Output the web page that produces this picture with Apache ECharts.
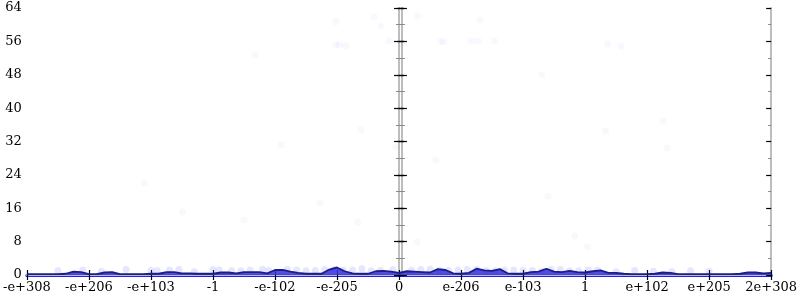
<!DOCTYPE html>
<html><head><meta charset="utf-8">
<script src="https://cdn.jsdelivr.net/npm/echarts@6/dist/echarts.min.js"></script>
<style>html,body{margin:0;padding:0;background:#fff}#c{width:800px;height:300px}</style>
</head><body><div id="c"></div>
<script>
// x axis tick labels (positions -6..6)
const xTickLabels = ['-e+308','-e+206','-e+103','-1','-e-102','-e-205','0','e-206','e-103','1','e+102','e+205','2e+308'];
const yTicks = [0, 8, 16, 24, 32, 40, 48, 56, 64];
// histogram line sampled at x = -6 + i*0.125
const histX = [];
for (let i = 0; i <= 96; i++) histX.push(-6 + i * 0.125);
const histY = [0.2,0.2,0.2,0.2,0.2,0.3,0.8,0.7,0.2,0.2,0.6,0.7,0.2,0.2,0.2,0.2,0.3,0.3,0.7,0.7,
  0.4,0.4,0.3,0.3,0.3,0.6,0.6,0.4,0.7,0.7,0.7,0.4,1.2,1.2,0.8,0.5,0.3,0.3,0.3,1.3,
  1.8,0.9,0.4,0.3,0.3,0.9,1.0,0.8,0.5,0.9,0.8,0.7,0.6,1.4,1.2,0.4,0.3,0.5,1.5,1.1,
  1.0,1.4,0.4,0.3,0.3,0.7,0.8,1.5,0.8,0.7,1.0,0.7,0.6,0.9,1.1,0.5,0.5,0.3,0.2,0.2,
  0.2,0.3,0.6,0.5,0.2,0.2,0.2,0.2,0.2,0.2,0.2,0.2,0.3,0.6,0.6,0.4,0.5];
// faint scatter points
const scatterX = [-2.32,-1.90,-2.50,-1.28,-0.67,-4.11,-3.49,0.59,0.29,2.40,3.04,2.83,-1.02,-0.40,-0.29,0.30,1.30,
  -1.02,-0.96,-0.86,-0.16,0.05,0.67,0.72,1.17,1.28,1.54,-0.62,-0.05,3.36,3.58,4.26,3.33,4.32,2.30,
  -5.5,-5.1,-4.8,-4.4,-4.0,-3.7,-3.3,-3.0,-2.7,-2.4,-2.1,-1.8,-1.5,-1.2,-0.9,-0.6,-0.3,-0.1,
  0.2,0.5,0.8,1.1,1.4,1.7,2.0,2.3,2.6,2.9,3.2,3.5,3.8,4.1,4.4,4.7,5.0,
  -3.9,-3.55,-2.9,-2.55,-2.2,-1.65,-1.35,-1.05,-0.75,-0.45,0.35,0.65,0.95,1.25,1.55,1.85,2.15,2.45,2.75,3.05];
const scatterY = [52.8,31.2,13.2,17.3,12.7,22.0,15.1,27.6,7.9,18.9,6.7,9.4,60.7,61.9,59.7,62.1,61.2,
  55.2,55.2,54.9,56.1,55.6,55.9,55.9,56.1,56.1,56.1,34.8,30.7,55.4,54.9,36.9,34.5,30.5,48.0,
  1.0,1.2,0.9,1.3,1.1,1.2,0.8,1.3,1.0,1.2,1.1,1.4,1.0,1.3,1.2,1.5,1.1,1.3,
  1.2,1.4,1.1,1.3,1.0,1.2,1.1,0.9,1.3,1.0,1.2,0.8,1.1,0.9,0.8,1.0,0.9,
  1.1,1.3,1.2,1.0,1.4,1.2,1.1,1.3,1.2,1.0,1.3,1.1,1.2,1.4,1.0,1.2,1.1,1.3,1.0,1.2];

const chart = echarts.init(document.getElementById('c'), null, {renderer: 'canvas'});
const font = 'DejaVu Serif';
const grayLine = {show: true, lineStyle: {color: '#bdbdbd', width: 2}};
function yAx(pos, offset, inside, labels) {
  return {
    type: 'value', min: 0, max: 64, interval: 8, position: pos, offset: offset,
    axisLine: grayLine, splitLine: {show: false},
    axisTick: {show: true, inside: inside, length: 5, lineStyle: {color: '#000', width: 1.2}},
    minorTick: {show: true, splitNumber: 2, length: 3, lineStyle: {color: '#888', width: 1}},
    axisLabel: {show: labels, color: '#000', fontFamily: font, fontSize: 13, margin: 5}
  };
}
const option = {
  animation: false,
  grid: {left: 24, right: 26, top: 8, bottom: 25},
  xAxis: [
    {type: 'value', min: -6, max: 6, interval: 1, position: 'bottom',
      axisLine: {show: true, onZero: false, lineStyle: {color: '#2020f0', width: 3}},
      axisTick: {show: true, length: 5, lineStyle: {color: '#000', width: 1.2}},
      splitLine: {show: false},
      axisLabel: {color: '#000', fontFamily: font, fontSize: 13, margin: 6,
        formatter: v => xTickLabels[Math.round(v) + 6]}},
    {type: 'value', min: -6, max: 6, interval: 1, position: 'bottom',
      axisLine: {show: false}, splitLine: {show: false}, axisLabel: {show: false},
      axisTick: {show: true, inside: true, length: 5, lineStyle: {color: '#000', width: 1.2}}},
    {type: 'value', min: -6, max: 6, position: 'top',
      axisLine: grayLine, axisTick: {show: false}, axisLabel: {show: false}, splitLine: {show: false}}
  ],
  yAxis: [
    yAx('left', 0, false, true),
    yAx('left', 0, true, false),
    yAx('right', 0, false, false),
    yAx('right', 0, true, false),
    yAx('left', -375, false, false),
    yAx('left', -375, true, false)
  ],
  series: [
    {type: 'scatter', xAxisIndex: 0, yAxisIndex: 0, symbolSize: 7,
      itemStyle: {color: 'rgba(70,70,255,0.05)'},
      data: scatterX.map((x, i) => [x, scatterY[i]])},
    {type: 'scatter', xAxisIndex: 0, yAxisIndex: 0, symbolSize: 7,
      itemStyle: {color: 'rgba(70,70,255,0.12)'},
      data: scatterX.slice(35).map((x, i) => [x, scatterY[35 + i]])},
    {type: 'line', xAxisIndex: 0, yAxisIndex: 0, showSymbol: false, smooth: false, z: 5,
      lineStyle: {color: '#1c1c8c', width: 1.8},
      areaStyle: {color: '#3030e0', opacity: 0.85},
      data: histX.map((x, i) => [x, histY[i]])}
  ]
};
chart.setOption(option);
</script></body></html>
